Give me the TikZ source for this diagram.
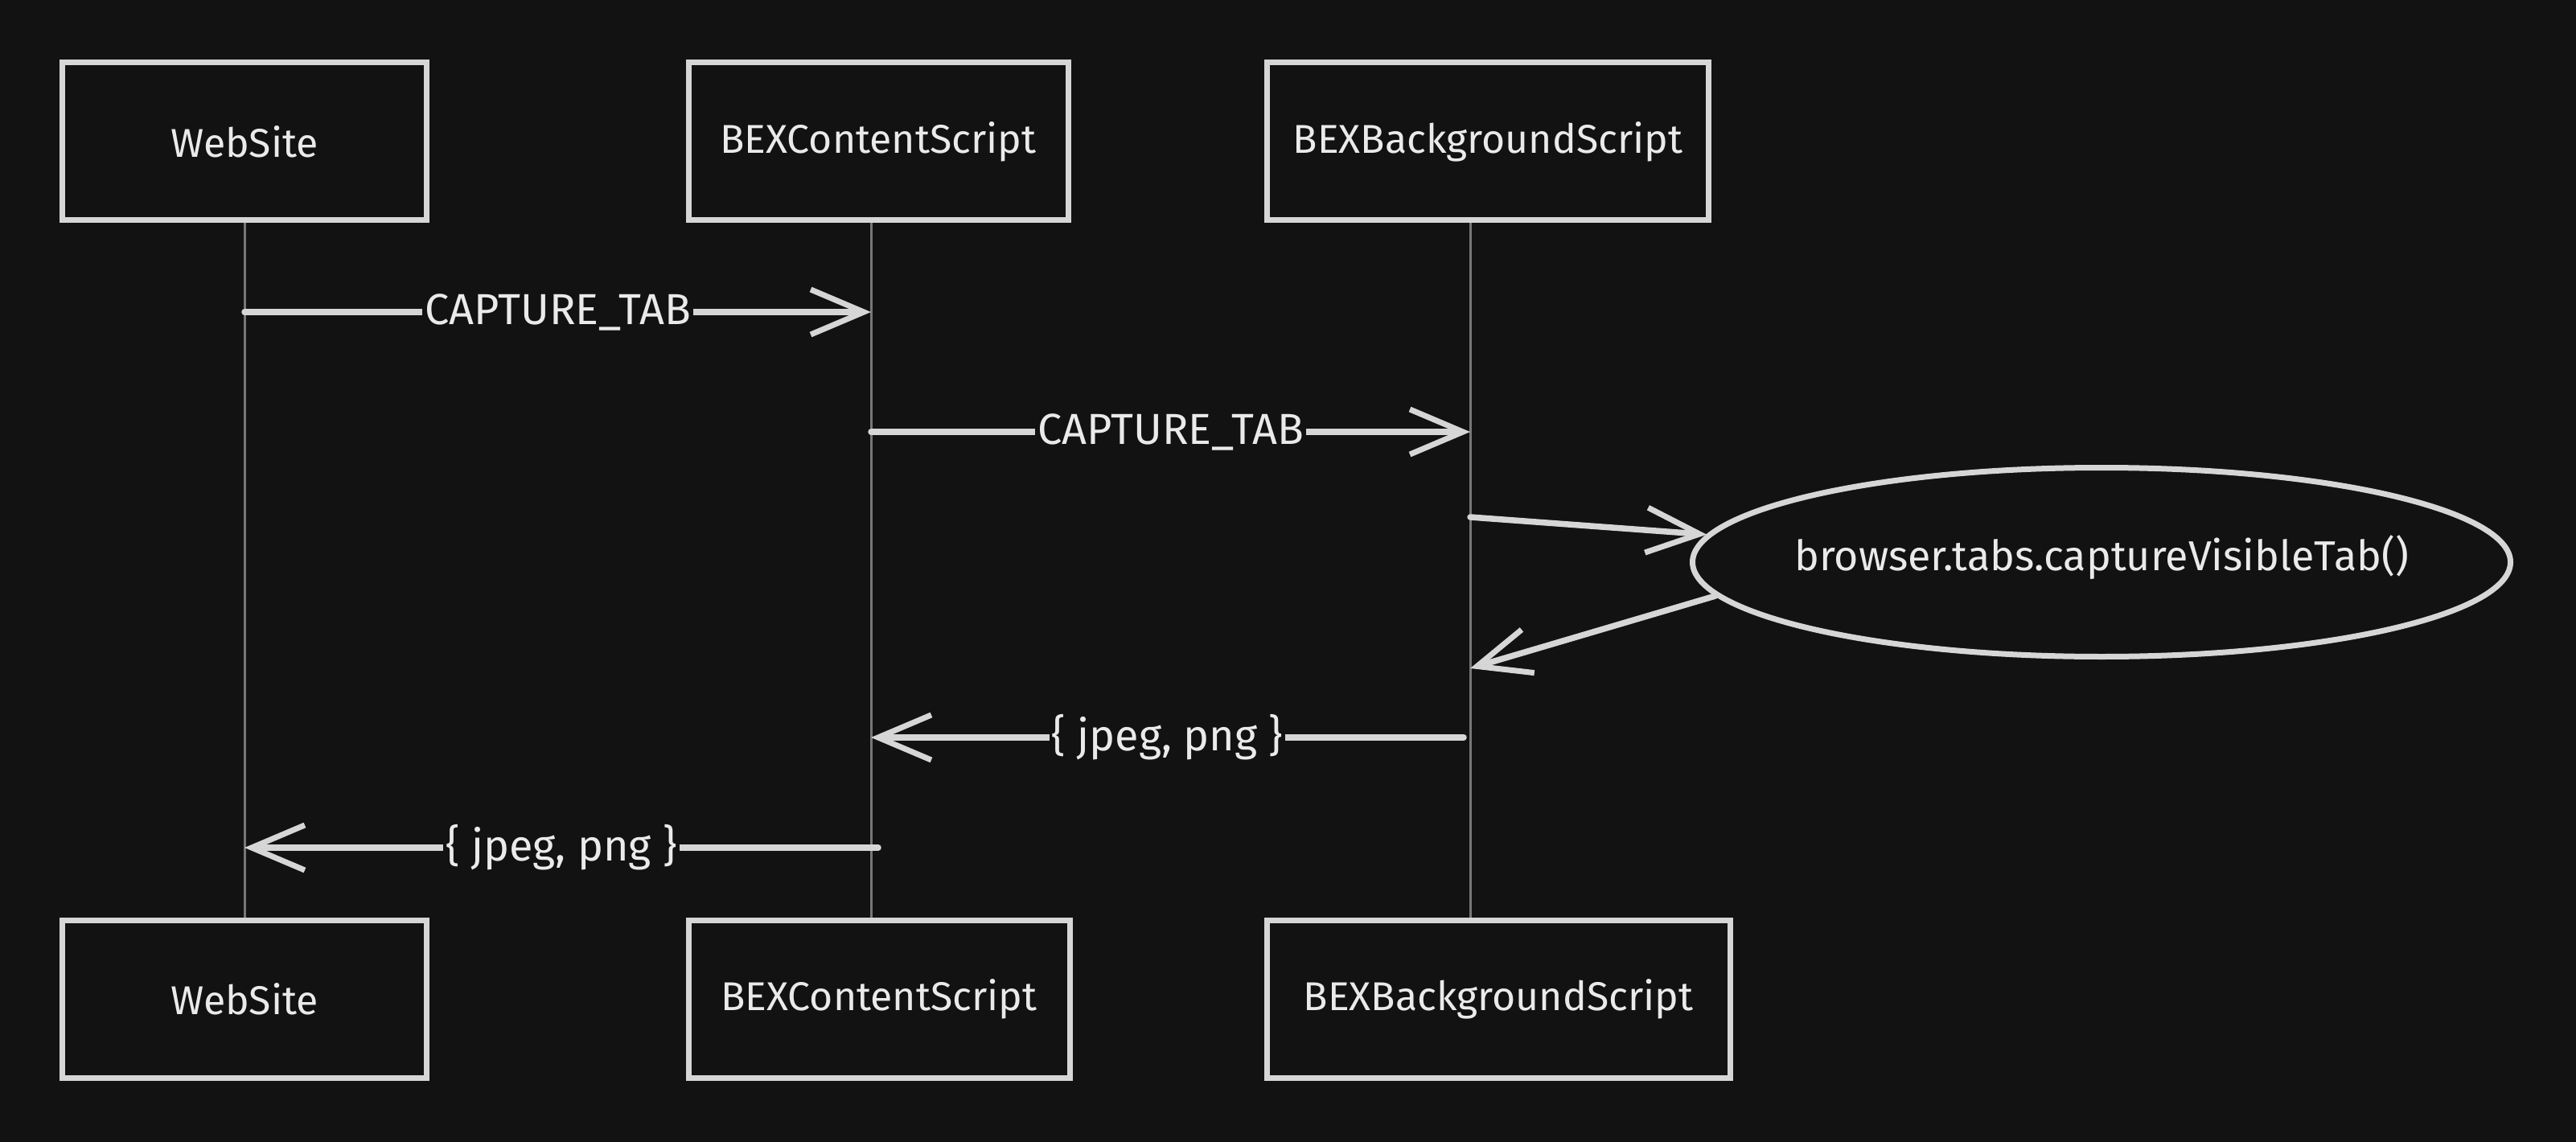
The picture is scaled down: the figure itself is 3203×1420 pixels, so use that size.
\documentclass[tikz,border=0pt]{standalone}
\usepackage{fontspec}
\setmainfont{Fira Sans}
\usetikzlibrary{arrows.meta,shapes.geometric}
\definecolor{bg}{HTML}{121212}
\definecolor{ink}{HTML}{D6D6D6}
\definecolor{txt}{HTML}{EAEAEA}
\definecolor{life}{HTML}{777777}
\begin{document}
\begin{tikzpicture}[x=1pt,y=-1pt,
  actor/.style={draw=ink,line width=7pt,fill=bg,inner sep=0pt,text=txt,
    font=\fontsize{50}{58}\selectfont},
  lifeln/.style={draw=life,line width=3pt},
  msg/.style={draw=ink,line width=7.5pt,line cap=round,
    -{Straight Barb[length=66pt,width=56pt,line width=7pt]}},
  lbl/.style={fill=bg,text=txt,inner sep=3pt,font=\fontsize{54}{60}\selectfont}]
\fill[bg] (0,0) rectangle (3203,1420);
\useasboundingbox (0,0) rectangle (3203,1420);
% actors top
\node[actor,minimum width=453pt,minimum height=196pt] (ws1) at (304,176) {WebSite};
\node[actor,minimum width=472pt,minimum height=196pt] (cs1) at (1092,176) {BEXContentScript};
\node[actor,minimum width=549pt,minimum height=196pt] (bs1) at (1850,176) {BEXBackgroundScript};
% actors bottom
\node[actor,minimum width=453pt,minimum height=196pt] (ws2) at (304,1242) {WebSite};
\node[actor,minimum width=474pt,minimum height=196pt] (cs2) at (1093,1242) {BEXContentScript};
\node[actor,minimum width=576pt,minimum height=196pt] (bs2) at (1863,1242) {BEXBackgroundScript};
% ellipse
\node[ellipse,draw=ink,line width=7pt,minimum width=1017pt,minimum height=235pt,
  inner sep=0pt,
  label={[text=txt,font=\fontsize{52}{60}\selectfont,yshift=6pt]center:browser.tabs.captureVisibleTab()}]
  (ell) at (2613,699) {};
% lifeline x positions
\coordinate (wx) at (304,0);
\coordinate (cx) at (1083,0);
\coordinate (bx) at (1828,0);
\draw[lifeln] (ws1.south -| wx) -- (ws2.north -| wx);
\draw[lifeln] (cs1.south -| cx) -- (cs2.north -| cx);
\draw[lifeln] (bs1.south -| bx) -- (bs2.north -| bx);
% message points
\coordinate (m1s) at (304,388);  \coordinate (m1e) at (1083,388);
\coordinate (m2s) at (1083,537); \coordinate (m2e) at (1828,537);
\coordinate (m3s) at (1828,643);
\coordinate (m4e) at (1828,831);
\coordinate (m5s) at (1820,917); \coordinate (m5e) at (1083,917);
\coordinate (m6s) at (1092,1054); \coordinate (m6e) at (304,1054);
\draw[msg] (m1s) -- node[lbl,pos=0.5] {CAPTURE\_TAB} (m1e);
\draw[msg] (m2s) -- node[lbl,pos=0.5] {CAPTURE\_TAB} (m2e);
\draw[msg] (m3s) -- (ell.176);
\draw[msg] (ell.185) -- (m4e);
\draw[msg] (m5s) -- node[lbl,pos=0.5] {\{ jpeg, png \}} (m5e);
\draw[msg] (m6s) -- node[lbl,pos=0.5] {\{ jpeg, png \}} (m6e);
\end{tikzpicture}
\end{document}
